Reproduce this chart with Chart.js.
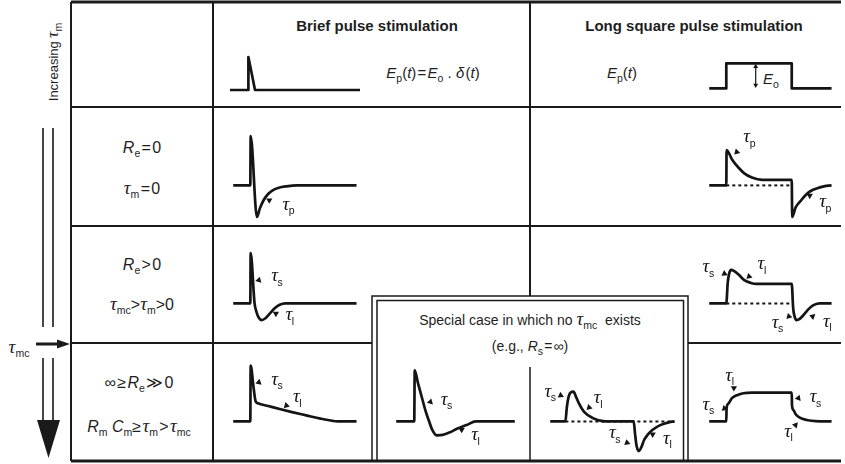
<!DOCTYPE html>
<html>
<head>
<meta charset="utf-8">
<title>Extracellular responses to brief and long pulse stimulation</title>
<script src="https://cdn.jsdelivr.net/npm/chart.js@4.4.1/dist/chart.umd.min.js"></script>
<style>
  body { margin: 0; background: #fff; }
  #stage { position: relative; width: 845px; height: 464px; overflow: hidden;
           font-family: "Liberation Sans", Arial, sans-serif; color: #1e1e1e; }
  #grid { position: absolute; left: 0; top: 0; }
  .txt { position: absolute; transform: translate(-50%, -50%); white-space: nowrap; font-size: 15px; line-height: 1; }
  .hd { font-weight: bold; }
  .lc { font-size: 16px; }
  .sc { font-size: 14px; }
  .tau { font-family: "Liberation Serif", serif; font-style: italic; font-size: 19px; }
  sub { font-size: 10.5px; vertical-align: -4px; line-height: 0; }
  canvas.trace { position: absolute; }
</style>
</head>
<body>
<div id="stage">
  <svg id="grid" width="845" height="464">
    <g stroke="#1a1a1a" fill="none">
      <path stroke-width="2.8" d="M71 2H841M71 461H841"/>
      <path stroke-width="2" d="M71 107H841M71 226H841M71 343H372M688 343H841M71 2V461M213 2V461M530 2V296"/>
      <path stroke-width="1.5" d="M372 461V296H688V461M377 461V300.5H683.5V461M530 367V461"/>
      <path stroke-width="1.6" d="M43 128V327M53 128V327M43 358V421M53 358V421"/>
      <path stroke-width="3" d="M36 344H59"/>
    </g>
    <g fill="#1a1a1a">
      <polygon points="57,339.5 70,344 57,348.5"/>
      <polygon points="37,420 60,420 48.5,458"/>
    </g>
  </svg>

  <div class="txt" style="left:52px;top:62px;transform:translate(-50%,-50%) rotate(-90deg);font-size:13px">Increasing <span class="tau" style="font-size:17px">τ</span><sub>m</sub></div>
  <div class="txt" style="left:19px;top:346px"><span class="tau">τ</span><sub>mc</sub></div>

  <div class="txt hd" style="left:377px;top:25px">Brief pulse stimulation</div>
  <div class="txt hd" style="left:694px;top:25px">Long square pulse stimulation</div>
  <div class="txt" style="left:433px;top:72px"><i>E</i><sub>p</sub>(<i>t</i>)&#8202;=&#8202;<i>E</i><sub>o</sub>&nbsp;.&nbsp;<i>δ</i>&#8202;(<i>t</i>)</div>
  <div class="txt" style="left:622px;top:72px"><i>E</i><sub>p</sub>(<i>t</i>)</div>
  <div class="txt" style="left:771px;top:78px"><i>E</i><sub>o</sub></div>

  <div class="txt lc" style="left:142px;top:148px"><i>R</i><sub>e</sub>&#8202;=&#8202;0</div>
  <div class="txt lc" style="left:142px;top:187px"><span class="tau">τ</span><sub>m</sub>&#8202;=&#8202;0</div>
  <div class="txt lc" style="left:142px;top:265px"><i>R</i><sub>e</sub>&#8202;&gt;&#8202;0</div>
  <div class="txt lc" style="left:142px;top:303px"><span class="tau">τ</span><sub>mc</sub>&gt;<span class="tau">τ</span><sub>m</sub>&gt;0</div>
  <div class="txt lc" style="left:139px;top:383px">∞&#8202;≥&#8202;<i>R</i><sub>e</sub>&#8202;≫&#8202;0</div>
  <div class="txt lc" style="left:139px;top:425px"><i>R</i><sub>m</sub>&nbsp;<i>C</i><sub>m</sub>≥&#8202;<span class="tau">τ</span><sub>m</sub>&#8202;&gt;&#8202;<span class="tau">τ</span><sub>mc</sub></div>

  <div class="txt sc" style="left:530px;top:318px">Special case in which no <span class="tau">τ</span><sub>mc</sub>&nbsp; exists</div>
  <div class="txt sc" style="left:530px;top:346px">(e.g., <i>R</i><sub>s</sub>&#8202;=&#8202;∞)</div>
</div>

<script>
// time runs left to right (about one unit per pixel), value is the response above the baseline

// stimulus waveforms (header row)
const headBriefT = [0, 18, 18.4, 25, 130];
const headBriefV = [0, 0, 33, 0, 0];
const headLongT = [0, 18, 18, 87, 87, 129];
const headLongV = [0, 0, 27, 27, 0, 0];
const headLongAmpT = [49, 49];
const headLongAmpV = [3.5, 23.5];

// Re = 0, tau_m = 0
const r2BriefT = [0, 18, 18.4, 25, 28, 32, 37, 42, 48, 56, 67, 130];
const r2BriefV = [0, 0, 53, -34, -25, -16, -9, -5, -2.5, -1, 0, 0];
const r2LongT = [0, 18, 18.3, 24, 31, 37, 45, 56, 87, 87.5, 91, 97, 102, 107, 114, 121, 129];
const r2LongV = [0, 0, 38, 28, 19, 13, 8.5, 6, 6, -34, -24, -16, -10, -6, -3, -1, 0];

// Re > 0, tau_mc > tau_m > 0
const r3BriefT = [0, 18, 18.4, 22.5, 24.5, 27, 30, 34, 39, 44, 49, 55, 130];
const r3BriefV = [0, 0, 54, 0, -9, -15.5, -18, -16, -10.5, -5, -1.5, 0, 0];
const r3LongT = [0, 18, 19.5, 21, 23, 26, 31, 37, 44, 50, 87, 88.5, 90, 92, 95, 99, 104, 109, 116, 129];
const r3LongV = [0, 0, 22, 32, 36, 35, 31, 25, 22, 21, 21, -5, -14, -18, -17, -13, -7, -2.5, 0, 0];

// Re >> 0, tau_m > tau_mc
const r4BriefT = [0, 18, 18.4, 21.5, 23.5, 26, 37, 50, 62, 77, 92, 105, 110, 130];
const r4BriefV = [0, 0, 60, 36, 22, 19.5, 16.5, 13, 10, 6.5, 3, 0.5, 0, 0];
const r4LongT = [0, 18, 18.3, 20, 24, 30, 36, 45, 87, 87.3, 89, 91, 94, 99, 104, 112, 129];
const r4LongV = [0, 0, 14, 19, 25, 28.5, 30.3, 31, 31, 17, 12, 8, 5, 2.5, 1.2, 0.3, 0];

// special case, no tau_mc (Rs = inf)
const spBriefT = [0, 19, 19.5, 23, 27, 31, 34, 38, 43, 49, 56, 64, 74, 84, 125];
const spBriefV = [0, 0, 55, 41, 26, 11, 2, -9, -15, -14.5, -12, -8, -4, 0, 0];
const spLongT = [0, 16, 17.5, 19.5, 22, 24.5, 27, 30, 36, 45, 58, 88, 89.5, 91, 93.5, 96, 99, 103, 108, 116, 125, 131];
const spLongV = [0, 0, 15, 27, 31.5, 32, 27, 20, 10, 3.5, 0, 0, -14, -26, -32, -28, -20, -14, -9, -4, -1, 0];

// stimulus-on reference lines (dotted)
const r2LongRefT = [18, 87];
const r3LongRefT = [18, 87];
const spLongRefT = [16, 131];

// arrowheads: [time, value, rotation in degrees]
const r2BriefArrows = [[38, -16, 300]];
const r2LongArrows = [[29, 36, 225], [106, -11, 300]];
const r3BriefArrows = [[27, 25, 255], [45, -11, 300]];
const r3LongArrows = [[16, 32, 115], [42, 29, 225], [84, -14, 105], [109, -14, 290]];
const r4BriefArrows = [[27, 42, 250], [56, 17, 225]];
const spBriefArrows = [[36, 21, 255], [69, -9, 300]];
const spLongArrows = [[11, 28, 115], [41, 15, 225], [81, -23, 110], [108, -14, 300]];
const r4LongArrows = [[26, 36, 180], [16, 14, 105], [94, 25, 260], [91, -4, 40]];

// time-constant labels: [time, value, subscript]
const r2BriefTaus = [[52, -22, 'p']];
const r2LongTaus = [[36, 51, 'p'], [116, -19, 'p']];
const r3BriefTaus = [[40, 28, 's'], [55, -14, 'l']];
const r3LongTaus = [[-7, 38, 's'], [51, 41, 'l'], [66, -22, 's'], [120, -21, 'l']];
const r4BriefTaus = [[40, 44, 's'], [63, 25, 'l']];
const spBriefTaus = [[47, 22, 's'], [79, -16, 'l']];
const spLongTaus = [[-6, 31, 's'], [46, 24, 'l'], [62, -14, 's'], [119, -20, 'l']];
const r4LongTaus = [[17, 48, 'l'], [-7, 17, 's'], [106, 25, 's'], [79, -12, 'l']];

const INK = '#141414';
const T_MIN = -15, T_MAX = 140, V_MIN = -48, V_MAX = 65;

// where each trace's time zero / baseline sits on the page
const traces = [
  { x0: 230, y0: 90, t: headBriefT, v: headBriefV, smooth: false },
  { x0: 706, y0: 89, t: headLongT, v: headLongV, smooth: false, amp: [headLongAmpT, headLongAmpV] },
  { x0: 230, y0: 186, t: r2BriefT, v: r2BriefV, smooth: true, arrows: r2BriefArrows, taus: r2BriefTaus },
  { x0: 706, y0: 186, t: r2LongT, v: r2LongV, smooth: true, ref: r2LongRefT, arrows: r2LongArrows, taus: r2LongTaus },
  { x0: 230, y0: 304, t: r3BriefT, v: r3BriefV, smooth: true, arrows: r3BriefArrows, taus: r3BriefTaus },
  { x0: 706, y0: 304, t: r3LongT, v: r3LongV, smooth: true, ref: r3LongRefT, arrows: r3LongArrows, taus: r3LongTaus },
  { x0: 230, y0: 422, t: r4BriefT, v: r4BriefV, smooth: true, arrows: r4BriefArrows, taus: r4BriefTaus },
  { x0: 393, y0: 422, t: spBriefT, v: spBriefV, smooth: true, arrows: spBriefArrows, taus: spBriefTaus },
  { x0: 547, y0: 422, t: spLongT, v: spLongV, smooth: true, ref: spLongRefT, arrows: spLongArrows, taus: spLongTaus },
  { x0: 706, y0: 422, t: r4LongT, v: r4LongV, smooth: true, arrows: r4LongArrows, taus: r4LongTaus }
];

const tauLabels = {
  id: 'tauLabels',
  afterDatasetsDraw(chart, args, opts) {
    const ctx = chart.ctx;
    const sx = chart.scales.x, sy = chart.scales.y;
    ctx.save();
    ctx.fillStyle = INK;
    ctx.textBaseline = 'alphabetic';
    (opts.items || []).forEach(([t, v, sub]) => {
      const px = sx.getPixelForValue(t), py = sy.getPixelForValue(v);
      ctx.font = 'italic 19px "Liberation Serif"';
      ctx.fillText('τ', px, py + 4);
      const w = ctx.measureText('τ').width;
      ctx.font = '10.5px "Liberation Sans"';
      ctx.fillText(sub, px + w - 0.5, py + 8.5);
    });
    ctx.restore();
  }
};

const stage = document.getElementById('stage');

traces.forEach(tr => {
  const cv = document.createElement('canvas');
  cv.className = 'trace';
  cv.width = T_MAX - T_MIN;
  cv.height = V_MAX - V_MIN;
  cv.style.left = (tr.x0 + T_MIN) + 'px';
  cv.style.top = (tr.y0 - V_MAX) + 'px';
  stage.appendChild(cv);

  const datasets = [];
  if (tr.ref) {
    datasets.push({
      data: tr.ref.map(t => ({ x: t, y: 0 })),
      borderColor: INK, borderWidth: 2, borderDash: [3, 3],
      pointRadius: 0, tension: 0
    });
  }
  datasets.push({
    data: tr.t.map((t, i) => ({ x: t, y: tr.v[i] })),
    borderColor: INK, borderWidth: 2.7, pointRadius: 0,
    tension: 0, cubicInterpolationMode: tr.smooth ? 'monotone' : 'default',
    borderJoinStyle: 'round'
  });
  if (tr.amp) {
    datasets.push({
      data: tr.amp[0].map((t, i) => ({ x: t, y: tr.amp[1][i] })),
      borderColor: INK, borderWidth: 1.2, tension: 0,
      pointStyle: 'triangle', pointRadius: 2.8, pointRotation: [180, 0],
      pointBackgroundColor: INK, pointBorderWidth: 0
    });
  }
  if (tr.arrows) {
    datasets.push({
      data: tr.arrows.map(a => ({ x: a[0], y: a[1] })),
      showLine: false,
      pointStyle: 'triangle', pointRadius: 3.6,
      pointRotation: tr.arrows.map(a => a[2]),
      pointBackgroundColor: INK, pointBorderWidth: 0
    });
  }

  new Chart(cv, {
    type: 'line',
    data: { datasets: datasets },
    options: {
      responsive: false,
      animation: false,
      events: [],
      layout: { padding: 0 },
      plugins: {
        legend: { display: false },
        tooltip: { enabled: false },
        tauLabels: { items: tr.taus || [] }
      },
      scales: {
        x: { type: 'linear', min: T_MIN, max: T_MAX, display: false },
        y: { type: 'linear', min: V_MIN, max: V_MAX, display: false }
      },
      datasets: { line: { clip: false } }
    },
    plugins: [tauLabels]
  });
});
</script>
</body>
</html>
